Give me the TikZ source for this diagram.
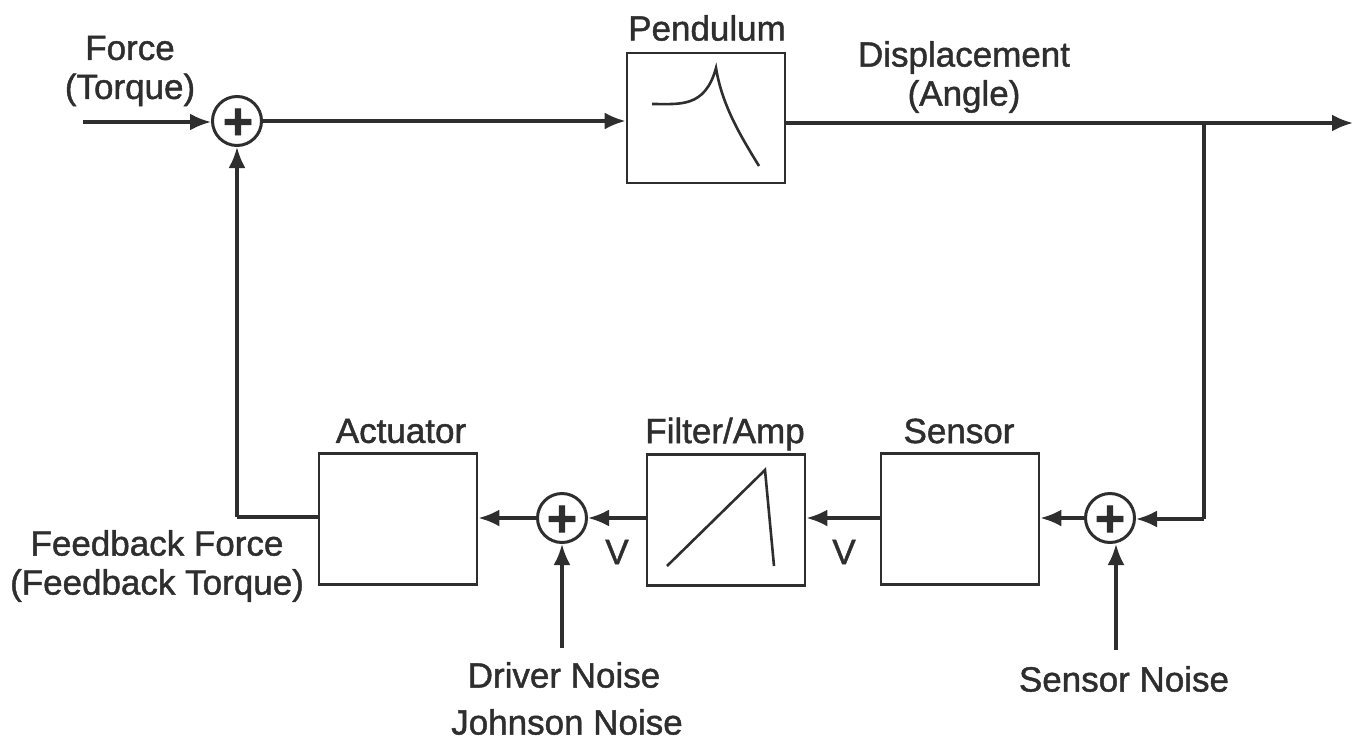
\documentclass[tikz,border=0pt]{standalone}
\usepackage{fontspec}
\setmainfont[FakeBold=1.3]{Liberation Sans}
\usetikzlibrary{arrows.meta}
\definecolor{ink}{HTML}{2E2E2E}
\begin{document}
\begin{tikzpicture}[x=1pt,y=-1pt,
 every node/.style={font=\fontsize{35}{39}\selectfont,text=ink,inner sep=0},
 box/.style={draw=ink,line width=2.8pt,inner sep=0},
 sum/.style={draw=ink,circle,line width=3pt,minimum size=49pt,inner sep=0},
 plus/.style={font=\fontsize{52}{52}\bfseries\selectfont,inner sep=0},
 conn/.style={line width=3.2pt,draw=ink,-{Latex[length=21pt,width=17pt]}},
 wire/.style={line width=3.2pt,draw=ink},
 curve/.style={line width=2.6pt,draw=ink}]
\useasboundingbox (0,0) rectangle (1359,742);
\node[box,minimum width=158pt,minimum height=130pt] (pend) at (706,118) {};
\node[box,minimum width=158pt,minimum height=131pt] (act) at (398,519) {};
\node[box,minimum width=158pt,minimum height=131pt] (filt) at (726,520) {};
\node[box,minimum width=158pt,minimum height=131pt] (sens) at (960,519) {};
\node[sum] (s1) at (237,121) {};
\node[sum] (s2) at (562,518) {};
\node[sum] (s3) at (1110,518) {};
\node[plus] (p1) at (238,124) {+};
\node[plus] (p2) at (562,521) {+};
\node[plus] (p3) at (1110,521) {+};
\coordinate (in) at (83,122);
\coordinate (out) at (1353,123);
\coordinate (tap) at (1204,123);
\coordinate (tapb) at (1204,519);
\coordinate (corner) at (237,517);
\coordinate (dn) at (562,648);
\coordinate (sn) at (1116,650);
\draw[conn] (in) -- (s1.west |- in);
\draw[conn] (s1) -- (pend.west |- s1);
\draw[conn] (pend.east |- out) -- (out);
\draw[wire] (tap) -- (tapb);
\draw[conn] (tapb) -- (s3.east |- tapb);
\draw[conn] (s3) -- (sens.east |- s3);
\draw[conn] (sens.west |- s3) -- (filt.east |- s3);
\draw[conn] (filt.west |- s2) -- (s2);
\draw[conn] (s2) -- (act.east |- s2);
\draw[wire] (act.west |- corner) -- (corner);
\draw[conn] (corner) -- (s1);
\draw[conn] (dn) -- (s2);
\draw[conn] (sn) -- (s3.south -| sn);
\draw[curve] (652,104) .. controls (680,104) and (705,108) .. (716,68) .. controls (722,105) and (740,135) .. (759,166);
\draw[curve] (667,566) -- (765,470) -- (774,566);
\node[align=center] (t1) at (130,71) {Force\\(Torque)};
\node (t2) at (707,28) {Pendulum};
\node[align=center] (t3) at (964,77) {Displacement\\(Angle)};
\node (t4) at (401,431) {Actuator};
\node (t5) at (725,434) {Filter/Amp};
\node (t6) at (959,431) {Sensor};
\node[align=center] (t7) at (157,566) {Feedback Force\\(Feedback Torque)};
\node (t8) at (617,552) {V};
\node (t9) at (844,552) {V};
\node (t10) at (564,675) {Driver Noise};
\node (t11) at (567,722) {Johnson Noise};
\node (t12) at (1124,679) {Sensor Noise};
\end{tikzpicture}
\end{document}
